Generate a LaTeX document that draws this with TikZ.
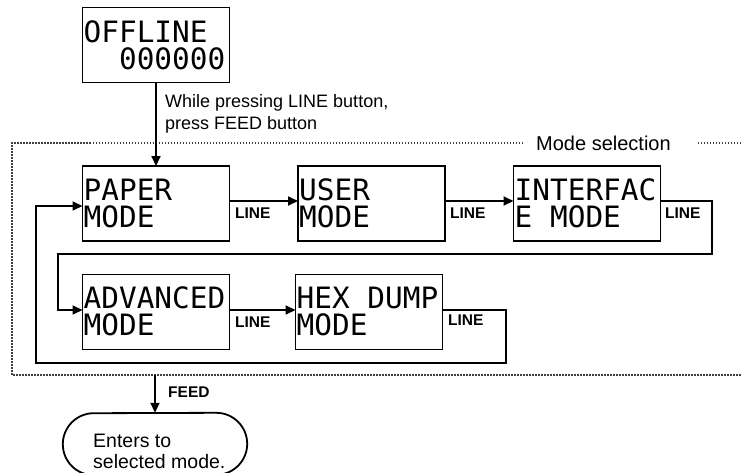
\documentclass[tikz,border=0pt]{standalone}
\usepackage{fontspec}
\setmainfont{Liberation Sans}
\newfontfamily\lcdfont{DejaVu Sans Mono}
\usetikzlibrary{arrows.meta,calc}
\begin{document}
\begin{tikzpicture}[x=1pt,y=-1pt,
 lcdbox/.style={draw,line width=1.8pt,minimum width=147pt,minimum height=75pt,inner sep=0pt,outer sep=0pt},
 lcdtxt/.style={anchor=base west,inner sep=0pt,font=\lcdfont\fontsize{29.4}{29.4}\selectfont},
 conn/.style={line width=1.8pt,-{Triangle[length=10pt,width=9pt]}},
 wire/.style={line width=1.8pt},
 keylbl/.style={anchor=base west,inner sep=0pt,font=\bfseries\fontsize{15.5}{15.5}\selectfont},
 note/.style={anchor=base west,inner sep=0pt,font=\fontsize{18}{18}\selectfont},
 bignote/.style={anchor=base west,inner sep=0pt,font=\fontsize{19.5}{19.5}\selectfont},
 frame/.style={line width=1.5pt,dash pattern=on 1.5pt off 1.5pt,draw=black!75}
]
\useasboundingbox (0,0) rectangle (741,472);
\clip (0,0) rectangle (741,472);

% LCD boxes
\node[lcdbox] (offline) at (156,45) {};
\node[lcdbox] (paper) at (156,203.5) {};
\node[lcdbox] (user) at (371.5,203.5) {};
\node[lcdbox] (iface) at (587,203.5) {};
\node[lcdbox] (adv) at (156,312) {};
\node[lcdbox] (hex) at (369,312) {};

% LCD texts
\node[lcdtxt] (offline1) at ($(offline.north west)+(1,35)$) {OFFLINE};
\node[lcdtxt] (offline2) at ($(offline.north west)+(1,62)$) {\phantom{00}000000};
\node[lcdtxt] (paper1) at ($(paper.north west)+(1,34)$) {PAPER};
\node[lcdtxt] (paper2) at ($(paper.north west)+(1,61)$) {MODE};
\node[lcdtxt] (user1) at ($(user.north west)+(1,34)$) {USER};
\node[lcdtxt] (user2) at ($(user.north west)+(1,61)$) {MODE};
\node[lcdtxt] (iface1) at ($(iface.north west)+(1,34)$) {INTERFAC};
\node[lcdtxt] (iface2) at ($(iface.north west)+(1,61)$) {E MODE};
\node[lcdtxt] (adv1) at ($(adv.north west)+(1,34)$) {ADVANCED};
\node[lcdtxt] (adv2) at ($(adv.north west)+(1,61)$) {MODE};
\node[lcdtxt] (hex1) at ($(hex.north west)+(1,34)$) {HEX DUMP};
\node[lcdtxt] (hex2) at ($(hex.north west)+(1,61)$) {MODE};

% dotted mode-selection frame
\coordinate (ftr) at (741,143);
\coordinate (ftm) at (697,143);
\coordinate (ftl) at (523,143);
\coordinate (ftc) at (12,143);
\coordinate (fbc) at (12,375);
\coordinate (fbr) at (741,375);
\draw[frame] (ftr) -- (ftm);
\draw[frame] (ftl) -- (ftc) -- (fbc) -- (fbr);
\node[anchor=base west,inner sep=0pt,font=\fontsize{20}{20}\selectfont] (modesel) at (536,150) {Mode selection};

% start note
\node[note] (note1) at (165,107) {While pressing LINE button,};
\node[note] (note2) at (165,129) {press FEED button};

% connectors
\draw[conn] (offline.south) -- (paper.north);
\draw[conn] ([yshift=2.5pt]paper.east) -- ([yshift=2.5pt]user.west);
\draw[conn] ([yshift=2.5pt]user.east) -- ([yshift=2.5pt]iface.west);
\coordinate (r1) at (712,254);
\coordinate (l1) at (58,254);
\draw[conn] ([yshift=2.5pt]iface.east) -| (r1) -- (l1) |- ([yshift=2pt]adv.west);
\draw[conn] ([yshift=2pt]adv.east) -- ([yshift=2pt]hex.west);
\coordinate (r2) at (506,363);
\coordinate (l2) at (36,363);
\draw[conn] ([yshift=2pt]hex.east) -| (r2) -- (l2) |- ([yshift=-2.5pt]paper.west);

% LINE labels
\node[keylbl] (k1) at (235,218) {LINE};
\node[keylbl] (k2) at (450,218) {LINE};
\node[keylbl] (k3) at (665,218) {LINE};
\node[keylbl] (k4) at (235,327) {LINE};
\node[keylbl] (k5) at (448,325) {LINE};

% final terminal
\node[minimum width=184pt,minimum height=62pt,inner sep=0pt] (enter) at (155,444) {};
\draw[wire] ($(enter.south west)+(31,0)$) arc[start angle=270,end angle=90,x radius=31pt,y radius=31pt]
  -- ($(enter.north east)+(-31,0)$) arc[start angle=90,end angle=-90,x radius=31pt,y radius=31pt] -- cycle;
\node[bignote] (enter1) at (93,447) {Enters to};
\node[bignote] (enter2) at (93,468) {selected mode.};
\coordinate (feedstart) at (155,375);
\draw[conn] (feedstart) -- (enter.north);
\node[keylbl] (feed) at (168,397) {FEED};
\end{tikzpicture}
\end{document}
